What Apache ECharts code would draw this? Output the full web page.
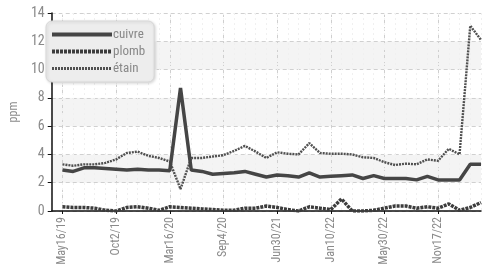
<!DOCTYPE html>
<html>
<head>
<meta charset="utf-8">
<script src="https://cdn.jsdelivr.net/npm/echarts@6/dist/echarts.min.js"></script>
<style>
html,body{margin:0;padding:0;background:#fff;}
#c{width:488px;height:280px;}
</style>
</head>
<body>
<div id="c"></div>
<script>
// Tick labels shown every 5 samples (first sample = first label)
var tickLabels = ['May16/19','Oct2/19','Mar16/20','Sep4/20','Jun30/21','Jan10/22','May30/22','Nov17/22'];
var seriesNames = ['cuivre','plomb','étain'];
var cuivre = [2.9,2.8,3.05,3.05,3.0,2.95,2.9,2.95,2.9,2.9,2.85,8.7,2.9,2.8,2.6,2.65,2.7,2.8,2.6,2.4,2.55,2.5,2.4,2.7,2.4,2.45,2.5,2.55,2.3,2.5,2.3,2.3,2.3,2.2,2.45,2.2,2.2,2.2,3.3,3.3];
var plomb  = [0.3,0.25,0.25,0.2,0.05,0.0,0.25,0.3,0.2,0.05,0.3,0.25,0.2,0.15,0.1,0.05,0.05,0.2,0.2,0.35,0.25,0.1,0.0,0.3,0.2,0.1,0.85,0.0,0.0,0.05,0.2,0.35,0.35,0.2,0.3,0.2,0.5,0.05,0.25,0.6];
var etain  = [3.3,3.2,3.3,3.3,3.4,3.65,4.1,4.2,3.9,3.75,3.5,1.55,3.75,3.75,3.85,3.95,4.25,4.6,4.2,3.75,4.15,4.05,4.0,4.8,4.1,4.05,4.05,4.0,3.8,3.75,3.45,3.25,3.35,3.3,3.65,3.55,4.4,4.0,13.1,12.1];

// categories: one leading empty slot, then one slot per sample; labels every 5th sample
var n = cuivre.length;
var categories = [''];
for (var i = 0; i < n; i++) {
  categories.push(i % 5 === 0 ? tickLabels[i / 5] : '');
}
function pad(arr){ return [null].concat(arr); }
function isMajor(idx){ return idx >= 1 && (idx - 1) % 5 === 0; }

var FONT = "'Roboto Condensed','Liberation Sans Narrow','Roboto',sans-serif";
var styles = [
  {color:'#454545', width:3.5, type:'solid'},
  {color:'#3c3c3c', width:3.5, type:[3,1]},
  {color:'#505050', width:2.4, type:[2,1]}
];
var chart = echarts.init(document.getElementById('c'), null, {renderer:'canvas'});
chart.setOption({
  animation:false,
  backgroundColor:'#fff',
  grid:{left:38, right:7, top:13, bottom:69},
  legend:{
    left:46, top:21, orient:'vertical',
    padding:[7,9,7,4],
    itemGap:4, itemWidth:60, itemHeight:13,
    backgroundColor:'#ededed', borderColor:'#d8d8d8', borderWidth:1, borderRadius:6,
    shadowColor:'rgba(0,0,0,0.15)', shadowBlur:3, shadowOffsetX:1, shadowOffsetY:1,
    itemStyle:{color:'rgba(0,0,0,0)', borderWidth:0, opacity:0},
    textStyle:{color:'#888', fontSize:13, fontFamily:FONT, padding:[0,0,0,-4]},
    data:seriesNames.map(function(nm, k){
      return {name:nm, lineStyle:{color:styles[k].color, width:styles[k].width + 0.5, type:styles[k].type}};
    })
  },
  xAxis:[{
    type:'category', data:categories, boundaryGap:false,
    axisLine:{lineStyle:{color:'#111', width:1.5}},
    axisTick:{show:true, length:3, inside:false, interval:function(i){return isMajor(i);}, lineStyle:{color:'#111'}},
    axisLabel:{rotate:90, color:'#8a8a8a', fontSize:12, fontFamily:FONT, margin:6, interval:function(i){return isMajor(i);}},
    splitLine:{show:true, interval:function(i){return isMajor(i);}, lineStyle:{color:'#cfcfcf', type:[4,3], width:1}}
  },{
    type:'category', data:categories, boundaryGap:false, position:'bottom',
    axisLine:{show:false}, axisTick:{show:false}, axisLabel:{show:false},
    splitLine:{show:true, interval:0, lineStyle:{color:'#f0f0f0', type:[2,3], width:1}}
  }],
  yAxis:{
    type:'value', min:0, max:14, interval:2,
    name:'ppm', nameLocation:'middle', nameGap:22,
    nameTextStyle:{color:'#8a8a8a', fontSize:12, fontFamily:FONT},
    axisLine:{show:true, lineStyle:{color:'#111', width:1.5}},
    axisTick:{show:true, length:4, lineStyle:{color:'#111'}},
    axisLabel:{color:'#8a8a8a', fontSize:14, fontFamily:FONT, margin:7},
    splitLine:{show:true, lineStyle:{color:'#d0d0d0', type:[4,3], width:1}},
    splitArea:{show:true, areaStyle:{color:['#ffffff','#f4f4f4']}}
  },
  series:seriesNames.map(function(nm, k){
    var d = [cuivre, plomb, etain][k];
    return {name:nm, type:'line', data:pad(d), symbol:'none', showSymbol:false,
      lineStyle:styles[k], itemStyle:{color:styles[k].color}, z:k === 0 ? 4 : 3};
  })
});
</script>
</body>
</html>
